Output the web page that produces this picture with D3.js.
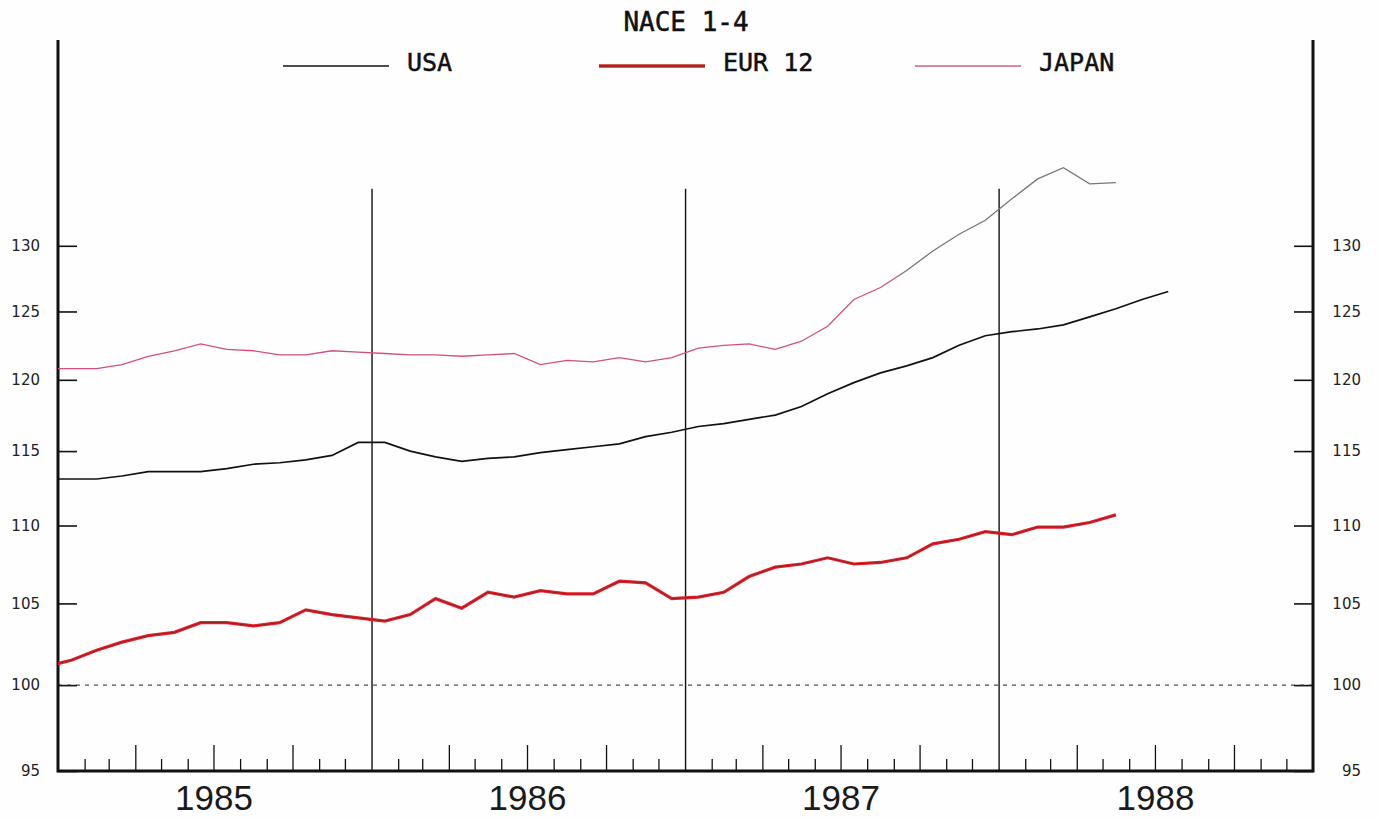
<!DOCTYPE html>
<html><head><meta charset="utf-8">
<script src="https://cdn.jsdelivr.net/npm/d3@7"></script>
<style>html,body{margin:0;padding:0;background:#fff;} svg{display:block}</style>
</head><body>
<svg id="chart" width="1378" height="819"></svg>
<script>
// ---------- data ----------
const chartTitle = "NACE 1-4";
const seriesNames = ["USA", "EUR 12", "JAPAN"];
const firstMonth = [1984, 11]; // Dec 1984 (year, zero-based month)
// monthly index values, Dec 1984 onwards
const usa = [113.1, 113.1, 113.1, 113.3, 113.6, 113.6, 113.6, 113.8, 114.1, 114.2, 114.4, 114.7,
  115.6, 115.6, 115.0, 114.6, 114.3, 114.5, 114.6, 114.9, 115.1, 115.3, 115.5, 116.0,
  116.3, 116.7, 116.9, 117.2, 117.5, 118.1, 119.0, 119.8, 120.5, 121.0, 121.6, 122.5,
  123.2, 123.5, 123.7, 124.0, 124.6, 125.2, 125.9, 126.5];
const eur12 = [101.1, 101.5, 102.1, 102.6, 103.0, 103.2, 103.8, 103.8, 103.6, 103.8, 104.6, 104.3,
  104.1, 103.9, 104.3, 105.3, 104.7, 105.7, 105.4, 105.8, 105.6, 105.6, 106.4, 106.3,
  105.3, 105.4, 105.7, 106.7, 107.3, 107.5, 107.9, 107.5, 107.6, 107.9, 108.8, 109.1,
  109.6, 109.4, 109.9, 109.9, 110.2, 110.7];
const japan = [120.8, 120.8, 120.8, 121.1, 121.7, 122.1, 122.6, 122.2, 122.1, 121.8, 121.8, 122.1,
  122.0, 121.9, 121.8, 121.8, 121.7, 121.8, 121.9, 121.1, 121.4, 121.3, 121.6, 121.3,
  121.6, 122.3, 122.5, 122.6, 122.2, 122.8, 123.9, 125.9, 126.8, 128.1, 129.6, 130.9,
  132.0, 133.7, 135.3, 136.2, 134.9, 135.0];
const years = [1985, 1986, 1987, 1988];
const yTickValues = [95, 100, 105, 110, 115, 120, 125, 130];
const baseValue = 100;
const separatorTopValue = 134.5;

// ---------- layout ----------
const L = 58, R = 1313, T = 40, B = 771;
const svg = d3.select("#chart");
svg.append("rect").attr("width", 1378).attr("height", 819).attr("fill", "#fefefe");

const x = d3.scaleTime().domain([new Date(1985, 0, 1), new Date(1989, 0, 1)]).range([L, R]);
const y = d3.scaleLog().domain([95, 147]).range([B, T]);

const midMonth = i => {
  const a = new Date(firstMonth[0], firstMonth[1] + i, 1);
  const b = new Date(firstMonth[0], firstMonth[1] + i + 1, 1);
  return new Date((+a + +b) / 2);
};

const defs = svg.append("defs");
defs.append("clipPath").attr("id", "plot").append("rect")
  .attr("x", L).attr("y", 0).attr("width", R - L).attr("height", B);
// scanned original: the Japan line fades from pink to grey late in 1987
const colorShift = x(new Date(1987, 8, 5));
const grad = defs.append("linearGradient").attr("id", "jpgrad")
  .attr("gradientUnits", "userSpaceOnUse").attr("x1", L).attr("x2", R).attr("y1", 0).attr("y2", 0);
const f = (colorShift - L) / (R - L);
grad.append("stop").attr("offset", 0).attr("stop-color", "#d4507a");
grad.append("stop").attr("offset", f).attr("stop-color", "#d4507a");
grad.append("stop").attr("offset", f).attr("stop-color", "#777");
grad.append("stop").attr("offset", 1).attr("stop-color", "#777");

// ---------- bottom month ticks ----------
const months = d3.timeMonth.range(new Date(1985, 1, 1), new Date(1989, 0, 1));
const small = months.filter(d => d.getMonth() % 3 !== 0);
const quarter = months.filter(d => d.getMonth() % 3 === 0 && d.getMonth() !== 0);
const yearStarts = months.filter(d => d.getMonth() === 0);

function tickAxis(vals, size, w) {
  const g = svg.append("g").attr("transform", `translate(0,${B})`)
    .call(d3.axisTop(x).tickValues(vals).tickSize(size).tickFormat(""));
  g.select(".domain").remove();
  g.selectAll("line").attr("stroke", "#111").attr("stroke-width", w);
}
tickAxis(small, 12, 1.3);
tickAxis(quarter, 26, 1.3);
tickAxis(yearStarts, B - y(separatorTopValue), 1.4);

// year labels
const gx = svg.append("g").attr("transform", `translate(0,${B})`)
  .call(d3.axisBottom(x).tickValues(years.map(yr => new Date(yr, 6, 1)))
    .tickSize(0).tickPadding(14).tickFormat(d => d.getFullYear()));
gx.select(".domain").remove();
gx.selectAll("text").attr("font-family", "Liberation Sans, Arial, sans-serif")
  .attr("font-size", 35).attr("fill", "#1a1a1a").attr("dy", "0.72em");

// ---------- y axes ----------
const gl = svg.append("g").attr("transform", `translate(${L},0)`)
  .call(d3.axisLeft(y).tickValues(yTickValues).tickSizeInner(-19).tickSizeOuter(0)
    .tickPadding(18).tickFormat(d3.format("d")));
gl.select(".domain").remove();
gl.selectAll("line").attr("stroke", "#111").attr("stroke-width", 1.6);
gl.selectAll("text").attr("font-family", "DejaVu Sans, sans-serif").attr("font-size", 15).attr("fill", "#222");

const gr = svg.append("g").attr("transform", `translate(${R},0)`)
  .call(d3.axisRight(y).tickValues(yTickValues).tickSizeInner(-19).tickSizeOuter(0)
    .tickPadding(18).tickFormat(d3.format("d")));
gr.select(".domain").remove();
gr.selectAll("line").attr("stroke", "#111").attr("stroke-width", 1.6);
gr.selectAll("text").attr("font-family", "DejaVu Sans, sans-serif").attr("font-size", 15).attr("fill", "#222")
  .attr("x", 48).attr("text-anchor", "end");

// base line (100)
svg.append("line").attr("x1", L).attr("x2", R).attr("y1", y(baseValue)).attr("y2", y(baseValue))
  .attr("stroke", "#222").attr("stroke-width", 1).attr("stroke-dasharray", "4,5");

// frame
const frame = d3.path();
frame.moveTo(L, y(147)); frame.lineTo(L, B); frame.lineTo(R, B); frame.lineTo(R, y(147));
svg.append("path").attr("d", frame.toString()).attr("fill", "none")
  .attr("stroke", "#111").attr("stroke-width", 3);

// ---------- lines ----------
const line = d3.line().x((d, i) => x(midMonth(i))).y(d => y(d));
const plot = svg.append("g").attr("clip-path", "url(#plot)");

plot.append("path").datum(japan).attr("d", line).attr("fill", "none")
  .attr("stroke", "url(#jpgrad)").attr("stroke-width", 1.3);
plot.append("path").datum(usa).attr("d", line).attr("fill", "none")
  .attr("stroke", "#111").attr("stroke-width", 1.7);
plot.append("path").datum(eur12).attr("d", line).attr("fill", "none")
  .attr("stroke", "#e3222d").attr("stroke-width", 3.2);
plot.append("path").datum(eur12).attr("d", line).attr("fill", "none")
  .attr("stroke", "#6a1a14").attr("stroke-width", 1).attr("stroke-opacity", 0.6);

// ---------- title & legend ----------
svg.append("text").attr("x", 686).attr("y", 31).attr("text-anchor", "middle")
  .attr("font-family", "DejaVu Sans Mono, monospace").attr("font-size", 26).attr("fill", "#111")
  .attr("stroke", "#111").attr("stroke-width", 0.5)
  .text(chartTitle);

const legendStyles = [
  [{stroke: "#111", w: 1.6, o: 1}],
  [{stroke: "#c02a22", w: 3.6, o: 1}, {stroke: "#6a1a14", w: 1.2, o: 0.6}],
  [{stroke: "#cf5f80", w: 1.3, o: 1}]
];
seriesNames.forEach((name, i) => {
  const gx0 = 283 + i * 316;
  const g = svg.append("g");
  legendStyles[i].forEach(s => g.append("line").attr("x1", gx0).attr("x2", gx0 + 106)
    .attr("y1", 66).attr("y2", 66).attr("stroke", s.stroke).attr("stroke-width", s.w).attr("stroke-opacity", s.o));
  g.append("text").attr("x", gx0 + 124).attr("y", 71)
    .attr("font-family", "DejaVu Sans Mono, monospace").attr("font-size", 25).attr("fill", "#111")
    .attr("stroke", "#111").attr("stroke-width", 0.5)
    .text(name);
});
</script>
</body></html>
